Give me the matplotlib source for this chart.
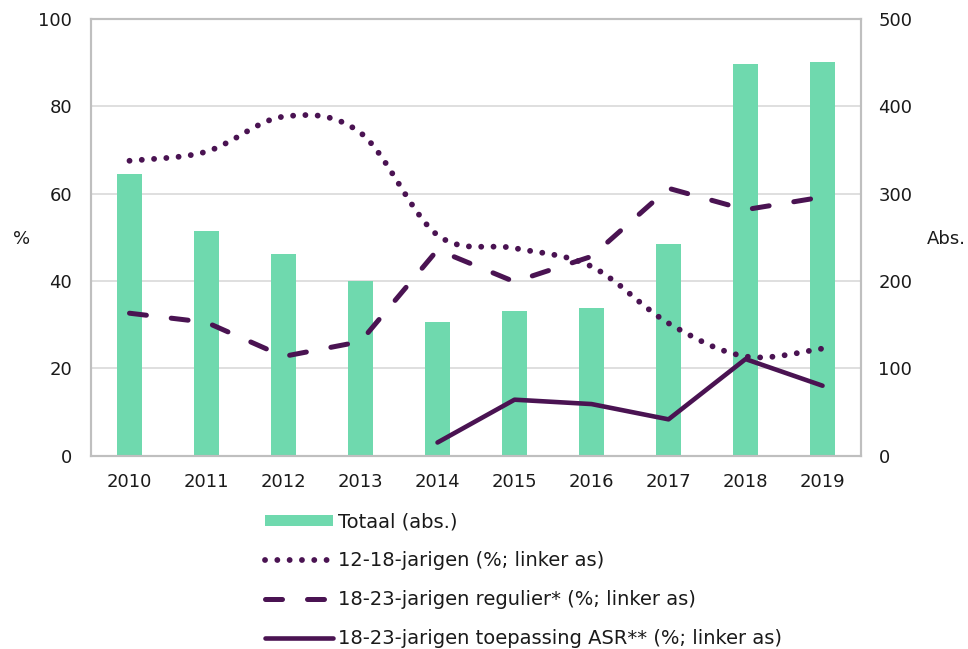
import matplotlib
matplotlib.use("Agg")
import matplotlib.pyplot as plt
from matplotlib.path import Path
from matplotlib.patches import PathPatch, Patch
from matplotlib.lines import Line2D
import numpy as np

plt.rcParams['font.family'] = ['DejaVu Sans']

jaren = ['2010', '2011', '2012', '2013', '2014', '2015', '2016', '2017', '2018', '2019']
totaal_abs = [322, 257, 231, 200, 153, 165, 169, 242, 448, 451]
jarigen_12_18 = [67.5, 69.6, 77.6, 73.9, 50.5, 47.5, 43.3, 30.3, 22.7, 24.5]
regulier_18_23 = [32.6, 30.5, 22.7, 26.1, 47.1, 39.8, 45.6, 61.2, 56.3, 59.2]
asr_jaren = ['2014', '2015', '2016', '2017', '2018', '2019']
asr_18_23 = [3.0, 12.8, 11.8, 8.3, 22.1, 16.0]

groen = '#6fd9ae'
paars = '#4a1352'
grijs = '#bfbfbf'
tekst = '#1a1a1a'


def smooth_path(xs, ys):
    # excel-achtige vloeiende lijn (catmull-rom als bezier)
    pts = np.column_stack([xs, ys]).astype(float)
    verts = [pts[0]]
    codes = [Path.MOVETO]
    n = len(pts)
    for i in range(n - 1):
        p0 = pts[i - 1] if i > 0 else pts[i]
        p1, p2 = pts[i], pts[i + 1]
        p3 = pts[i + 2] if i + 2 < n else pts[i + 1]
        verts += [p1 + (p2 - p0) / 6, p2 - (p3 - p1) / 6, p2]
        codes += [Path.CURVE4] * 3
    return Path(verts, codes)


fig = plt.figure(figsize=(9.68, 6.49), dpi=100)
ax2 = fig.add_axes([0.094, 0.298, 0.7955, 0.673])
ax = ax2.twinx()
ax.yaxis.tick_left()
ax2.yaxis.tick_right()
ax.set_zorder(ax2.get_zorder() + 1)
ax.patch.set_visible(False)

x = np.arange(len(jaren))
ax2.bar(x, totaal_abs, width=0.317, color=groen, zorder=2)
ax2.set_ylim(0, 500)
ax2.set_yticks(range(0, 501, 100))
ax2.grid(axis='y', color='#d9d9d9', linewidth=1.2, zorder=0)
ax2.set_axisbelow(True)

dot_style = dict(color=paars, linewidth=4.2, linestyle=(0, (0.01, 2.1)))
dash_style = dict(color=paars, linewidth=3.6, linestyle=(0, (3.4, 5.0)))
ax.add_patch(PathPatch(smooth_path(x, jarigen_12_18), fill=False,
                       capstyle='round', **dot_style))
ax.plot(x, regulier_18_23, dash_capstyle='round', **dash_style)
x_asr = [jaren.index(j) for j in asr_jaren]
ax.plot(x_asr, asr_18_23, color=paars, linewidth=3.3,
        solid_capstyle='round', solid_joinstyle='round')

ax.set_ylim(0, 100)
ax.set_yticks(range(0, 101, 20))
ax.set_xlim(-0.5, len(jaren) - 0.5)
ax2.set_xticks(x)
ax2.set_xticklabels(jaren)

for a in (ax, ax2):
    for s in a.spines.values():
        s.set_color(grijs)
        s.set_linewidth(1.5)
    a.tick_params(length=0, labelsize=13, colors=tekst)
ax.tick_params(axis='y', pad=13.5)
ax2.tick_params(axis='y', pad=12.5)
ax2.tick_params(axis='x', pad=12.5)

fig.text(0.013, 0.632, '%', fontsize=13, color=tekst, va='center', ha='left')
fig.text(0.957, 0.632, 'Abs.', fontsize=13, color=tekst, va='center', ha='left')

handles = [
    Patch(facecolor=groen, edgecolor='none'),
    Line2D([], [], dash_capstyle='round', **dot_style),
    Line2D([], [], dash_capstyle='round', **dash_style),
    Line2D([], [], color=paars, linewidth=3.3, solid_capstyle='round'),
]
labels = ['Totaal (abs.)', '12-18-jarigen (%; linker as)',
          '18-23-jarigen regulier* (%; linker as)',
          '18-23-jarigen toepassing ASR** (%; linker as)']
fig.legend(handles, labels, loc='upper left', bbox_to_anchor=(0.2738, 0.21),
           frameon=False, fontsize=14, handlelength=3.5, handleheight=0.46,
           handletextpad=0.25, labelspacing=1.01, borderaxespad=0,
           borderpad=0, labelcolor=tekst)

fig.savefig('out.png', dpi=100, facecolor='white')
